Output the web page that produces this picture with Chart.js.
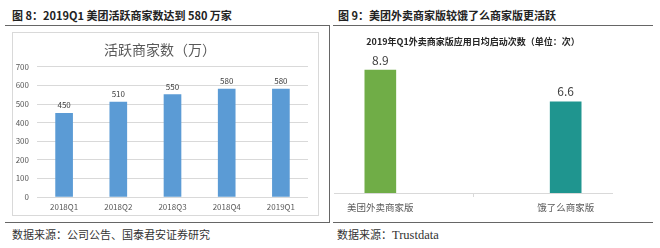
<!DOCTYPE html>
<html>
<head>
<meta charset="utf-8">
<script src="https://cdn.jsdelivr.net/npm/chart.js@4/dist/chart.umd.min.js"></script>
<style>
  body { margin: 0; background: #fff; width: 660px; height: 248px; position: relative; overflow: hidden;
         font-family: "Noto Sans CJK SC", sans-serif; }
  .abs { position: absolute; }
  .fig-title { font-size: 11px; font-weight: bold; color: #222; white-space: nowrap; line-height: 14px; }
  .source { font-size: 11px; color: #333; white-space: nowrap; line-height: 14px; }
  .hline { height: 0; border-top: 1.5px solid #666; }
  .vline { width: 0; border-left: 1.5px solid #666; }
</style>
</head>
<body>
  <div class="abs fig-title" style="left:12px; top:8px;">图 8：2019Q1 美团活跃商家数达到 580 万家</div>
  <div class="abs fig-title" style="left:338px; top:8px;">图 9：美团外卖商家版较饿了么商家版更活跃</div>

  <div class="abs hline" style="left:5px; top:25px; width:324px;"></div>
  <div class="abs vline" style="left:329px; top:25px; height:198px;"></div>
  <div class="abs hline" style="left:5px; top:222px; width:324px;"></div>
  <div class="abs hline" style="left:333px; top:25px; width:320px;"></div>
  <div class="abs hline" style="left:333px; top:222px; width:320px;"></div>

  <div class="abs" style="left:12px; top:32px; width:305px; height:182px; border:1px solid #d9d9d9;"></div>
  <canvas id="merchantChart" class="abs" width="306" height="183" style="left:12px; top:32px;"></canvas>
  <canvas id="launchChart" class="abs" width="286" height="194" style="left:330px; top:28px;"></canvas>

  <div class="abs source" style="left:12px; top:227px;">数据来源：公司公告、国泰君安证券研究</div>
  <div class="abs source" style="left:337px; top:227px;">数据来源：<span style="font-family:'Liberation Serif',serif; font-size:12.5px;">Trustdata</span></div>

<script>
// left chart data
const quarters = ['2018Q1', '2018Q2', '2018Q3', '2018Q4', '2019Q1'];
const merchants = [450, 510, 550, 580, 580];
const merchantTicks = [0, 100, 200, 300, 400, 500, 600, 700];

// right chart data
const apps = ['美团外卖商家版', '饿了么商家版'];
const launches = [8.9, 6.6];
const appColors = ['#70ad47', '#1f958f'];

const FONT = '"Noto Sans CJK SC", sans-serif';

// value on top of each bar
const valueLabels = {
  id: 'valueLabels',
  afterDatasetsDraw(chart, args, opts) {
    const ctx = chart.ctx;
    chart.data.datasets.forEach((ds, i) => {
      chart.getDatasetMeta(i).data.forEach((bar, j) => {
        const v = ds.data[j];
        if (v == null) return;
        ctx.save();
        ctx.font = opts.size + 'px ' + FONT;
        ctx.fillStyle = opts.color;
        ctx.textAlign = 'center';
        ctx.textBaseline = 'bottom';
        ctx.fillText(v.toFixed(opts.decimals), bar.x, bar.y - opts.offset);
        ctx.restore();
      });
    });
  }
};

// 1. Active merchants (bar)
new Chart(document.getElementById('merchantChart'), {
  type: 'bar',
  data: {
    labels: quarters,
    datasets: [{
      data: merchants,
      backgroundColor: '#5b9bd5',
      barThickness: 17
    }]
  },
  options: {
    responsive: false,
    animation: false,
    layout: { padding: { left: 0, right: 10, top: 0, bottom: 0 } },
    plugins: {
      legend: { display: false },
      tooltip: { enabled: false },
      title: {
        display: true,
        text: '活跃商家数（万）',
        color: '#595959',
        font: { family: FONT, size: 14, weight: 'normal' },
        padding: { top: 9, bottom: 9 }
      },
      valueLabels: { size: 8, color: '#404040', offset: 4, decimals: 0 }
    },
    scales: {
      x: {
        grid: { display: false, drawTicks: false },
        border: { display: false },
        ticks: { color: '#595959', font: { family: FONT, size: 8 }, padding: 5 },
        afterFit(scale) { scale.height = 18; }
      },
      y: {
        min: 0,
        max: 700,
        afterBuildTicks(scale) { scale.ticks = merchantTicks.map(v => ({ value: v })); },
        grid: { color: '#d9d9d9', drawTicks: false },
        border: { display: false },
        ticks: { color: '#595959', font: { family: FONT, size: 8 }, padding: 8 },
        afterFit(scale) { scale.width = 25; }
      }
    }
  },
  plugins: [valueLabels]
});

// 2. Daily launches (bar), empty slot in the middle keeps the gap between the two apps
new Chart(document.getElementById('launchChart'), {
  type: 'bar',
  data: {
    labels: [apps[0], '', apps[1]],
    datasets: [{
      data: [launches[0], null, launches[1]],
      backgroundColor: [appColors[0], 'transparent', appColors[1]],
      barThickness: 31
    }]
  },
  options: {
    responsive: false,
    animation: false,
    layout: { padding: { left: 4, right: 4, top: 0, bottom: 0 } },
    plugins: {
      legend: { display: false },
      tooltip: { enabled: false },
      title: {
        display: true,
        text: '2019年Q1外卖商家版应用日均启动次数（单位：次）',
        color: '#262626',
        font: { family: FONT, size: 9, weight: 'bold' },
        padding: { top: 8, bottom: 8 }
      },
      valueLabels: { size: 12, color: '#404040', offset: 4, decimals: 1 }
    },
    scales: {
      x: {
        grid: {
          offset: false,
          drawOnChartArea: false,
          tickLength: 4,
          tickColor: ctx => ctx.index === 1 ? '#d9d9d9' : 'transparent'
        },
        border: { color: '#d9d9d9' },
        ticks: { color: '#595959', font: { family: FONT, size: 9.5 }, padding: 5 },
        afterFit(scale) { scale.height = 29; }
      },
      y: { display: false, min: 0, max: 10 }
    }
  },
  plugins: [valueLabels]
});
</script>
</body>
</html>
